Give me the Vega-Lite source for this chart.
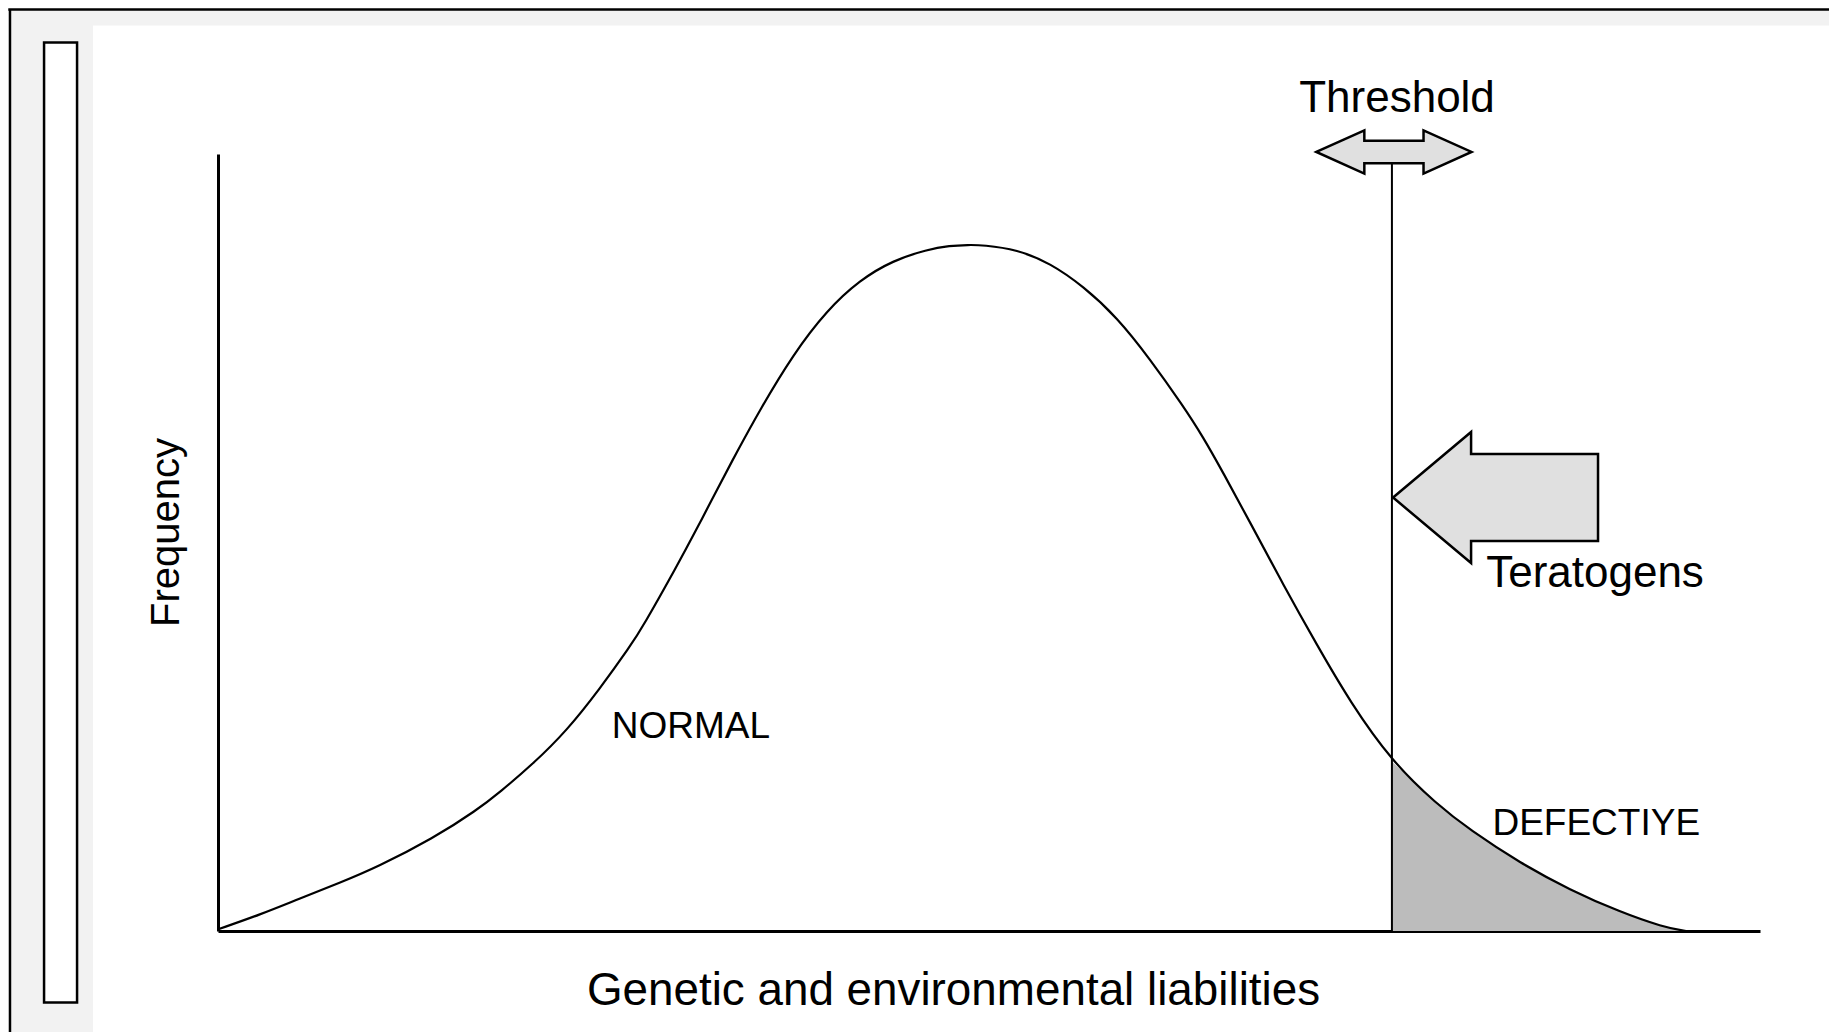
{
  "$schema": "https://vega.github.io/schema/vega-lite/v6.json",
  "width": 1542,
  "height": 777,
  "autosize": {"type": "none"},
  "padding": {"left": 218, "top": 154, "right": 69, "bottom": 101},
  "background": "white",
  "config": {
    "view": {"stroke": null},
    "font": "Liberation Sans",
    "axis": {
      "domain": true, "domainColor": "black", "domainWidth": 3,
      "ticks": false, "labels": false, "grid": false,
      "titleFont": "Liberation Sans", "titleFontWeight": "normal", "titleColor": "black"
    }
  },
  "datasets": {
    "curve": [
      {"x": 0.06, "y": 0.26}, {"x": 2.72, "y": 2.1}, {"x": 5.32, "y": 4.2}, {"x": 7.91, "y": 6.2},
      {"x": 10.31, "y": 8.2}, {"x": 13.94, "y": 11.9}, {"x": 16.80, "y": 15.57}, {"x": 18.29, "y": 17.89},
      {"x": 20.43, "y": 21.5}, {"x": 22.63, "y": 25.8}, {"x": 24.77, "y": 31.2}, {"x": 26.72, "y": 36.6},
      {"x": 27.56, "y": 39.2}, {"x": 29.77, "y": 47.0}, {"x": 31.06, "y": 51.8}, {"x": 32.10, "y": 55.8},
      {"x": 33.66, "y": 61.7}, {"x": 35.15, "y": 67.1}, {"x": 37.29, "y": 74.2}, {"x": 39.49, "y": 79.9},
      {"x": 41.63, "y": 83.8}, {"x": 43.77, "y": 86.3}, {"x": 45.98, "y": 87.7}, {"x": 47.47, "y": 88.2},
      {"x": 48.64, "y": 88.3}, {"x": 49.61, "y": 88.29}, {"x": 51.82, "y": 87.70}, {"x": 53.96, "y": 85.97},
      {"x": 56.10, "y": 83.0}, {"x": 58.30, "y": 79.0}, {"x": 60.44, "y": 73.62}, {"x": 62.58, "y": 67.6},
      {"x": 63.88, "y": 63.6}, {"x": 65.18, "y": 59.0}, {"x": 66.93, "y": 52.6}, {"x": 69.07, "y": 44.6},
      {"x": 71.27, "y": 36.8}, {"x": 73.41, "y": 29.5}, {"x": 76.13, "y": 21.8}, {"x": 79.05, "y": 16.3},
      {"x": 81.19, "y": 13.00}, {"x": 84.44, "y": 8.75}, {"x": 87.68, "y": 5.28}, {"x": 90.92, "y": 2.45},
      {"x": 93.71, "y": 0.51}, {"x": 95.2, "y": 0}
    ],
    "labelsMixed": [
      {"label": "Threshold", "x": 76.46, "y": 105.41},
      {"label": "Teratogens", "x": 89.3, "y": 44.27}
    ],
    "labelsCaps": [
      {"label": "NORMAL", "x": 30.67, "y": 24.84},
      {"label": "DEFECTIYE", "x": 89.38, "y": 12.36}
    ]
  },
  "layer": [
    {
      "data": {"values": [{}]},
      "mark": {"type": "rect", "color": "#f2f2f2"},
      "encoding": {
        "x": {"datum": -13.49, "type": "quantitative", "scale": {"domain": [0, 100], "nice": false, "zero": false}},
        "x2": {"datum": 105},
        "y": {"datum": 116.54, "type": "quantitative", "scale": {"domain": [0, 100], "nice": false, "zero": false}},
        "y2": {"datum": 118.53}
      }
    },
    {
      "data": {"values": [{}]},
      "mark": {"type": "rect", "color": "#f2f2f2"},
      "encoding": {
        "x": {"datum": -13.49, "type": "quantitative"},
        "x2": {"datum": -8.11},
        "y": {"datum": -14, "type": "quantitative"},
        "y2": {"datum": 118.53}
      }
    },
    {
      "data": {"values": [{}]},
      "mark": {"type": "rule", "color": "black", "strokeWidth": 2.5},
      "encoding": {
        "x": {"datum": -13.6, "type": "quantitative"},
        "x2": {"datum": 105},
        "y": {"datum": 118.6, "type": "quantitative"}
      }
    },
    {
      "data": {"values": [{}]},
      "mark": {"type": "rule", "color": "black", "strokeWidth": 2.5},
      "encoding": {
        "x": {"datum": -13.49, "type": "quantitative"},
        "y": {"datum": -14, "type": "quantitative"},
        "y2": {"datum": 118.6}
      }
    },
    {
      "data": {"values": [{}]},
      "mark": {"type": "rect", "fill": "white", "stroke": "black", "strokeWidth": 2.5},
      "encoding": {
        "x": {"datum": -11.28, "type": "quantitative"},
        "x2": {"datum": -9.14},
        "y": {"datum": -9.2, "type": "quantitative"},
        "y2": {"datum": 114.35}
      }
    },
    {
      "data": {"name": "curve"},
      "transform": [{"filter": "datum.x >= 76.13"}],
      "mark": {"type": "area", "color": "#bcbcbc", "interpolate": "basis"},
      "encoding": {
        "x": {"field": "x", "type": "quantitative"},
        "y": {"field": "y", "type": "quantitative"}
      }
    },
    {
      "data": {"name": "curve"},
      "mark": {"type": "line", "color": "black", "strokeWidth": 2.2, "interpolate": "basis"},
      "encoding": {
        "x": {
          "field": "x", "type": "quantitative",
          "axis": {
            "title": "Genetic and environmental liabilities",
            "titleFontSize": 45.8,
            "titleX": 735, "titleY": 73, "titleBaseline": "alphabetic", "titleAlign": "center", "titleAnchor": null
          }
        },
        "y": {
          "field": "y", "type": "quantitative",
          "axis": {
            "title": "Frequency",
            "titleFontSize": 40,
            "titleX": -40, "titleY": 378, "titleBaseline": "alphabetic", "titleAlign": "center", "titleAngle": 270, "titleAnchor": null
          }
        }
      }
    },
    {
      "data": {"values": [{}]},
      "mark": {"type": "rule", "color": "black", "strokeWidth": 2},
      "encoding": {
        "x": {"datum": 76.13, "type": "quantitative"},
        "y": {"datum": 100.26, "type": "quantitative"},
        "y2": {"datum": 0}
      }
    },
    {
      "data": {"values": [{}]},
      "mark": {
        "type": "point",
        "shape": "M-0.97,0 L-0.37,-0.27 L-0.37,-0.14 L0.37,-0.14 L0.37,-0.27 L0.97,0 L0.37,0.27 L0.37,0.14 L-0.37,0.14 L-0.37,0.27 Z",
        "size": 25600, "filled": true, "fill": "#e0e0e0", "stroke": "black", "strokeWidth": 2.5, "opacity": 1
      },
      "encoding": {
        "x": {"datum": 76.26, "type": "quantitative"},
        "y": {"datum": 100.26, "type": "quantitative"}
      }
    },
    {
      "data": {"values": [{}]},
      "mark": {
        "type": "point",
        "shape": "M-0.976,0 L-0.233,-0.624 L-0.233,-0.415 L0.976,-0.415 L0.976,0.415 L-0.233,0.415 L-0.233,0.624 Z",
        "size": 44100, "filled": true, "fill": "#e0e0e0", "stroke": "black", "strokeWidth": 2.5, "opacity": 1
      },
      "encoding": {
        "x": {"datum": 82.85, "type": "quantitative"},
        "y": {"datum": 55.79, "type": "quantitative"}
      }
    },
    {
      "data": {"name": "labelsMixed"},
      "mark": {"type": "text", "font": "Liberation Sans", "fontSize": 44, "align": "center", "baseline": "alphabetic", "color": "black"},
      "encoding": {
        "x": {"field": "x", "type": "quantitative"},
        "y": {"field": "y", "type": "quantitative"},
        "text": {"field": "label"}
      }
    },
    {
      "data": {"name": "labelsCaps"},
      "mark": {"type": "text", "font": "Liberation Sans", "fontSize": 37, "align": "center", "baseline": "alphabetic", "color": "black"},
      "encoding": {
        "x": {"field": "x", "type": "quantitative"},
        "y": {"field": "y", "type": "quantitative"},
        "text": {"field": "label"}
      }
    }
  ]
}
